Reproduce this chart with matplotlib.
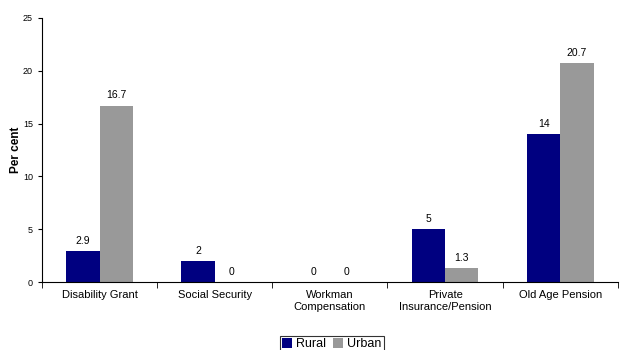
import numpy as np
from matplotlib import pyplot as plt

plt.rcParams['font.family'] = ['Liberation Sans', 'DejaVu Sans']

categories = ["Disability Grant", "Social Security", "Workman\nCompensation",
              "Private\nInsurance/Pension", "Old Age Pension"]
rural = [2.9, 2, 0, 5, 14]
urban = [16.7, 0, 0, 1.3, 20.7]
rural_labels = ["2.9", "2", "0", "5", "14"]
urban_labels = ["16.7", "0", "0", "1.3", "20.7"]

fig = plt.figure(figsize=(6.26, 3.5), dpi=100)
ax = fig.add_axes([0.067, 0.194, 0.92, 0.755])

x = np.arange(len(categories))
w = 0.29
b1 = ax.bar(x - w / 2, rural, w, color="#000080", label="Rural")
b2 = ax.bar(x + w / 2, urban, w, color="#999999", label="Urban")

for rect, lab in zip(b1, rural_labels):
    ax.text(rect.get_x() + rect.get_width() / 2, rect.get_height() + 0.5, lab,
            ha="center", va="bottom", fontsize=7.5)
for rect, lab in zip(b2, urban_labels):
    ax.text(rect.get_x() + rect.get_width() / 2, rect.get_height() + 0.5, lab,
            ha="center", va="bottom", fontsize=7.5)

ax.set_xlim(-0.5, len(categories) - 0.5)
ax.set_ylim(0, 25)
ax.set_yticks([0, 5, 10, 15, 20, 25])
ax.set_xticks(np.arange(len(categories) + 1) - 0.5, minor=True)
ax.set_xticks(x)
ax.set_xticklabels(categories, fontsize=8)
ax.tick_params(axis="x", which="major", length=0, pad=6)
ax.tick_params(axis="x", which="minor", length=4, direction="out")
ax.tick_params(axis="y", labelsize=6.5, length=3)
ax.spines["top"].set_visible(False)
ax.spines["right"].set_visible(False)
ax.set_ylabel("Per cent", fontsize=8.5, fontweight="bold", labelpad=1)

leg = fig.legend(loc="lower center", bbox_to_anchor=(0.53, -0.008), ncol=2,
                 fontsize=9, frameon=True, fancybox=False, edgecolor="black",
                 handlelength=0.8, handleheight=0.8, handletextpad=0.3,
                 columnspacing=0.6, borderpad=0.2, borderaxespad=0)
leg.get_frame().set_linewidth(0.8)

plt.savefig("out.png", dpi=100)
